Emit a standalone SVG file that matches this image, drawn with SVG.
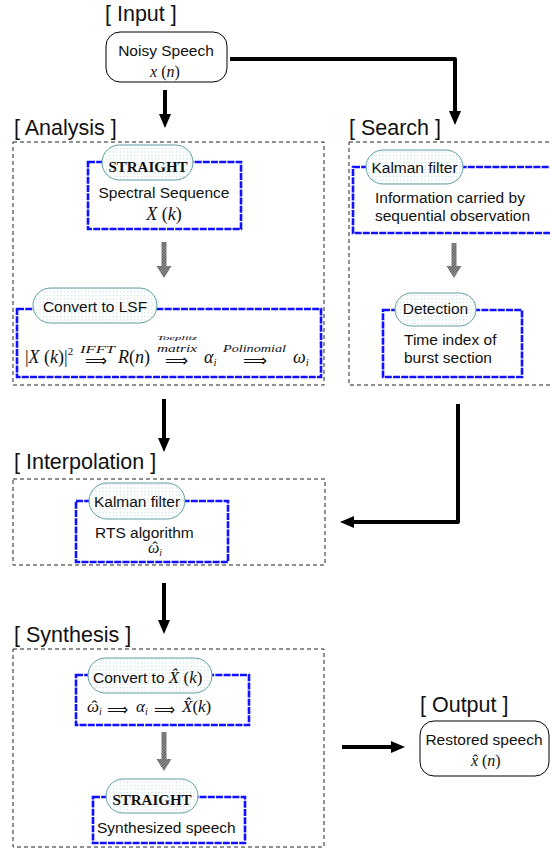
<svg xmlns="http://www.w3.org/2000/svg" width="550" height="850" viewBox="0 0 550 850">
<defs>
  <pattern id="dots" width="3.5" height="3.5" patternUnits="userSpaceOnUse">
    <rect width="3.5" height="3.5" fill="#ffffff"/>
    <rect x="1" y="1" width="1" height="1" fill="#a8d0d0"/>
  </pattern>
  <pattern id="hatch" width="2" height="2" patternUnits="userSpaceOnUse" patternTransform="rotate(45)">
    <rect width="2" height="2" fill="#9a9a9a"/>
    <rect width="1" height="2" fill="#5a5a5a"/>
  </pattern>
  <marker id="ah" viewBox="0 0 14 12" refX="6" refY="6" markerWidth="14" markerHeight="12" markerUnits="userSpaceOnUse" orient="auto">
    <path d="M0,0 L14,6 L0,12 z" fill="#000"/>
  </marker>
  <style>
    .sec{fill:none;stroke:#222;stroke-width:1;stroke-dasharray:4 3}
    .blue{fill:#fff;stroke:#1010ff;stroke-width:2.6;stroke-dasharray:7 1.2}
    .pill{fill:url(#dots);stroke:#5f9ea0;stroke-width:1}
    .term{fill:#fff;stroke:#000;stroke-width:1}
    .h{font-family:"Liberation Sans",Arial,sans-serif;font-size:21.5px;fill:#111}
    .t{font-family:"Liberation Sans",Arial,sans-serif;font-size:15.5px;fill:#111}
    .c{text-anchor:middle}
    .st{font-family:"Liberation Serif","Times New Roman",serif;font-size:15px;font-weight:bold;fill:#111;text-anchor:middle}
    .m{font-family:"Liberation Serif","Times New Roman",serif;font-size:17px;fill:#111}
    .i{font-style:italic}
    .sm{font-family:"Liberation Serif","Times New Roman",serif;font-style:italic;font-size:11px;fill:#111}
    .ar{font-family:"DejaVu Sans",sans-serif;font-size:16px;fill:#111}
    .conn{fill:none;stroke:#000;stroke-width:4;stroke-linejoin:round}
  </style>
</defs>

<!-- section headings -->
<text class="h" x="105" y="21">[ Input ]</text>
<text class="h" x="14" y="135">[ Analysis ]</text>
<text class="h" x="349" y="135">[ Search ]</text>
<text class="h" x="14" y="469">[ Interpolation ]</text>
<text class="h" x="14" y="642">[ Synthesis ]</text>
<text class="h" x="420" y="712">[ Output ]</text>

<!-- section frames -->
<rect class="sec" x="13" y="142" width="311" height="243"/>
<rect class="sec" x="349" y="142" width="210" height="243"/>
<rect class="sec" x="13" y="479" width="312" height="86"/>
<rect class="sec" x="13" y="649" width="311" height="198"/>

<g id="input">
  <rect class="term" x="106" y="32" width="121" height="50" rx="14"/>
  <text class="t c" x="166" y="56">Noisy Speech</text>
  <text class="m c" x="165" y="77" style="font-size:16px"><tspan class="i">x</tspan> (<tspan class="i">n</tspan>)</text>
</g>

<g id="straight1">
  <rect class="blue" x="88" y="162" width="153" height="67"/>
  <rect class="pill" x="102" y="145" width="91" height="35" rx="17.5"/>
  <text class="st" x="148" y="172">STRAIGHT</text>
  <text class="t c" x="164" y="198">Spectral Sequence</text>
  <text class="m c" x="164" y="220" style="font-size:18px"><tspan class="i">X</tspan> (<tspan class="i">k</tspan>)</text>
</g>

<g id="lsf">
  <rect class="blue" x="17" y="309" width="304" height="68"/>
  <rect class="pill" x="33" y="288" width="124" height="35" rx="17.5"/>
  <text class="t c" x="95" y="312">Convert to LSF</text>
  <text class="m" x="25" y="363" style="font-size:18px">|<tspan class="i">X</tspan> (<tspan class="i">k</tspan>)|<tspan font-size="11" dy="-8">2</tspan></text>
  <text class="sm" x="80" y="353" textLength="35" lengthAdjust="spacingAndGlyphs">IFFT</text>
  <text class="ar" x="85" y="366" textLength="22" lengthAdjust="spacingAndGlyphs">⟹</text>
  <text class="m" x="118" y="363" style="font-size:18px"><tspan class="i">R</tspan>(<tspan class="i">n</tspan>)</text>
  <text class="sm" x="157" y="340" style="font-size:6px" textLength="40" lengthAdjust="spacingAndGlyphs">Toeplitz</text>
  <text class="sm" x="157" y="352" textLength="40" lengthAdjust="spacingAndGlyphs">matrix</text>
  <text class="ar" x="165" y="366" textLength="23" lengthAdjust="spacingAndGlyphs">⟹</text>
  <text class="m i" x="204" y="363" style="font-size:18px">α<tspan font-size="11" dy="3">i</tspan></text>
  <text class="sm" x="223" y="352" textLength="63" lengthAdjust="spacingAndGlyphs">Polinomial</text>
  <text class="ar" x="243" y="366" textLength="24" lengthAdjust="spacingAndGlyphs">⟹</text>
  <text class="m i" x="293" y="363" style="font-size:18px">ω<tspan font-size="11" dy="3">i</tspan></text>
</g>

<g id="kalman1">
  <rect class="blue" x="353" y="167" width="205" height="66"/>
  <rect class="pill" x="366" y="150" width="97" height="34" rx="17"/>
  <text class="t c" x="414.5" y="173">Kalman filter</text>
  <text class="t" x="375" y="203">Information carried by</text>
  <text class="t" x="375" y="221">sequential observation</text>
</g>

<g id="detection">
  <rect class="blue" x="383" y="310" width="139" height="67"/>
  <rect class="pill" x="395" y="293" width="81" height="33" rx="16.5"/>
  <text class="t c" x="435.5" y="314">Detection</text>
  <text class="t" x="404" y="345">Time index of</text>
  <text class="t" x="404" y="363">burst section</text>
</g>

<g id="kalman2">
  <rect class="blue" x="76" y="501" width="152" height="61"/>
  <rect class="pill" x="89" y="483" width="96" height="36" rx="18"/>
  <text class="t c" x="137" y="507">Kalman filter</text>
  <text class="t" x="95" y="538">RTS algorithm</text>
  <text class="m i" x="148" y="553" style="font-size:16px">ω<tspan dx="-7.1" font-style="normal">ˆ</tspan><tspan font-size="10" dx="1.8" dy="3">i</tspan></text>
</g>

<g id="convert">
  <rect class="blue" x="76" y="675" width="173" height="50"/>
  <rect class="pill" x="88" y="658" width="124" height="35" rx="17.5"/>
  <text class="t" x="93" y="683">Convert to <tspan style="font-family:'Liberation Serif',serif;font-style:italic;font-size:17px">X̂</tspan><tspan style="font-family:'Liberation Serif',serif;font-size:17px"> (<tspan font-style="italic">k</tspan>)</tspan></text>
  <text class="m i" x="87" y="712" style="font-size:17px">ω<tspan dx="-7.6" font-style="normal">ˆ</tspan><tspan font-size="10" dx="1.9" dy="3">i</tspan></text>
  <text class="ar" x="107" y="715" textLength="21" lengthAdjust="spacingAndGlyphs">⟹</text>
  <text class="m i" x="136" y="712" style="font-size:17px">α<tspan font-size="10" dy="3">i</tspan></text>
  <text class="ar" x="154" y="715" textLength="21" lengthAdjust="spacingAndGlyphs">⟹</text>
  <text class="m" x="182" y="712" style="font-size:17px"><tspan class="i">X̂</tspan>(<tspan class="i">k</tspan>)</text>
</g>

<g id="straight2">
  <rect class="blue" x="93" y="797" width="152" height="46"/>
  <rect class="pill" x="106" y="779" width="92" height="34" rx="17"/>
  <text class="st" x="152" y="805">STRAIGHT</text>
  <text class="t" x="97" y="833">Synthesized speech</text>
</g>

<g id="output">
  <rect class="term" x="420" y="721" width="129" height="55" rx="14"/>
  <text class="t c" x="484" y="745">Restored speech</text>
  <text class="m" x="471" y="766" style="font-size:16px"><tspan class="i">x</tspan><tspan dx="-5.4">ˆ</tspan> (<tspan class="i">n</tspan>)</text>
</g>

<g id="connectors">
  <path class="conn" d="M165,90 V120" marker-end="url(#ah)"/>
  <path class="conn" d="M230,59 H455 V117" marker-end="url(#ah)"/>
  <path class="conn" d="M164,399 V444" marker-end="url(#ah)"/>
  <path class="conn" d="M458,404 V522 H348" marker-end="url(#ah)"/>
  <path class="conn" d="M164,583 V626" marker-end="url(#ah)"/>
  <path class="conn" d="M342,747 H397" marker-end="url(#ah)"/>
  <g fill="url(#hatch)">
    <path d="M161.5,242 h5 v24 h5 l-7.5,12 l-7.5,-12 h5 z"/>
    <path d="M451.5,243 h5 v23 h5 l-7.5,12 l-7.5,-12 h5 z"/>
    <path d="M161.5,732 h5 v27 h5 l-7.5,12 l-7.5,-12 h5 z"/>
  </g>
</g>
</svg>
